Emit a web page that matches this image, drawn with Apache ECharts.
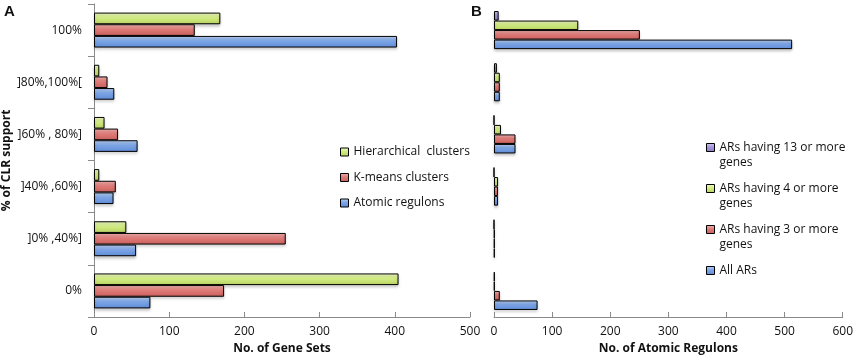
<!DOCTYPE html>
<html>
<head>
<meta charset="utf-8">
<script src="https://cdn.jsdelivr.net/npm/echarts@6/dist/echarts.min.js"></script>
<style>
  html, body { margin: 0; padding: 0; background: #fff; }
  #root { width: 856px; height: 363px; }
</style>
</head>
<body>
<div id="root"></div>
<script>
// categories, bottom to top (category axis starts at the bottom)
var categories = ['0%', ']0% ,40%]', ']40% ,60%]', ']60% , 80%]', ']80%,100%[', '100%'];

// panel A - no. of gene sets
var hierarchical = [405, 43, 7, 14, 7, 168];
var kmeans = [173, 255, 29, 32, 18, 134];
var atomic = [75, 56, 26, 58, 27, 403];

// panel B - no. of atomic regulons
var ar13 = [1, 0, 0, 0, 5, 8];
var ar4 = [1, 1, 7, 12, 10, 145];
var ar3 = [10, 1, 7, 37, 10, 251];
var arAll = [75, 1, 7, 37, 10, 513];

var ticksA = [0, 100, 200, 300, 400, 500];
var ticksB = [0, 100, 200, 300, 400, 500, 600];

var FONT = 'Open Sans';

function grad(light, base, dark) {
    return new echarts.graphic.LinearGradient(0, 0, 0, 1, [
        { offset: 0, color: light },
        { offset: 0.45, color: base },
        { offset: 1, color: dark }
    ]);
}
var GREEN = grad('#f0fcc4', '#d2ec83', '#b7d260');
var RED = grad('#f4b5b3', '#df7b78', '#c95f5c');
var BLUE = grad('#bcd3f7', '#7ba5e6', '#5f8bd6');
var PURPLE = grad('#d5ccf2', '#a596dc', '#8a7bc7');

function bar(name, data, color, idx) {
    return {
        name: name,
        type: 'bar',
        xAxisIndex: idx,
        yAxisIndex: idx,
        data: data,
        barGap: 0,
        barCategoryGap: idx === 0 ? '33%' : '27%',
        itemStyle: {
            color: color,
            borderColor: '#000',
            borderWidth: 1,
            shadowColor: 'rgba(0,0,0,0.22)',
            shadowBlur: 3,
            shadowOffsetY: 2
        }
    };
}

function valueAxis(idx, max, name) {
    return {
        type: 'value',
        gridIndex: idx,
        min: 0,
        max: max,
        interval: 100,
        splitLine: { show: false },
        axisLine: { show: true, lineStyle: { color: '#8a8a8a', width: 1 } },
        axisTick: { show: true, inside: true, length: 5, lineStyle: { color: '#8a8a8a' } },
        axisLabel: { color: '#111', fontSize: 12, fontFamily: FONT, margin: 9 },
        name: name,
        nameLocation: 'middle',
        nameGap: 26,
        nameTextStyle: { color: '#111', fontSize: 12, fontWeight: 'bold', fontFamily: FONT }
    };
}

var root = document.getElementById('root');
var myCharts = echarts.init(root);

var option = {
    animation: false,
    grid: [
        { left: 94, right: 386, top: 4, bottom: 46 },
        { left: 494, right: 13, top: 4, bottom: 46 }
    ],
    xAxis: [
        valueAxis(0, ticksA[ticksA.length - 1], 'No. of Gene Sets'),
        valueAxis(1, ticksB[ticksB.length - 1], 'No. of Atomic Regulons')
    ],
    yAxis: [
        {
            type: 'category',
            gridIndex: 0,
            data: categories,
            axisLine: { show: true, lineStyle: { color: '#8a8a8a' } },
            axisTick: { show: true, length: 6, lineStyle: { color: '#8a8a8a' } },
            axisLabel: { color: '#111', fontSize: 12, fontFamily: FONT, margin: 12 },
            name: '% of CLR support',
            nameLocation: 'middle',
            nameRotate: 90,
            nameGap: 75,
            nameTextStyle: { color: '#111', fontSize: 12, fontWeight: 'bold', fontFamily: FONT }
        },
        {
            type: 'category',
            gridIndex: 1,
            data: categories,
            axisLine: { show: false },
            axisTick: { show: false },
            axisLabel: { show: false }
        }
    ],
    legend: [
        {
            orient: 'vertical',
            left: 335,
            top: 140,
            itemWidth: 8,
            itemHeight: 8,
            itemGap: 11.5,
            icon: 'rect',
            itemStyle: { borderColor: '#000', borderWidth: 1 },
            textStyle: { color: '#111', fontSize: 12, fontFamily: FONT, lineHeight: 14 },
            data: ['Hierarchical  clusters', 'K-means clusters', 'Atomic regulons']
        },
        {
            orient: 'vertical',
            left: 701,
            top: 120,
            itemWidth: 8,
            itemHeight: 8,
            itemGap: -4,
            icon: 'rect',
            itemStyle: { borderColor: '#000', borderWidth: 1 },
            textStyle: { color: '#111', fontSize: 12, fontFamily: FONT, lineHeight: 15 },
            // empty first line keeps the icon level with the first text line
            formatter: function (name) {
                if (name === 'All ARs') {
                    return ' \n' + name + '\n ';
                }
                return ' \n' + name.replace(' more ', ' more\n');
            },
            data: ['ARs having 13 or more genes', 'ARs having 4 or more genes', 'ARs having 3 or more genes', 'All ARs']
        }
    ],
    graphic: [
        { type: 'text', left: 4, top: 4, style: { text: 'A', fontSize: 15, fontWeight: 'bold', fontFamily: 'Liberation Sans', fill: '#111' } },
        { type: 'text', left: 471, top: 4, style: { text: 'B', fontSize: 15, fontWeight: 'bold', fontFamily: 'Liberation Sans', fill: '#111' } }
    ],
    series: [
        bar('Hierarchical  clusters', hierarchical, GREEN, 0),
        bar('K-means clusters', kmeans, RED, 0),
        bar('Atomic regulons', atomic, BLUE, 0),
        bar('ARs having 13 or more genes', ar13, PURPLE, 1),
        bar('ARs having 4 or more genes', ar4, GREEN, 1),
        bar('ARs having 3 or more genes', ar3, RED, 1),
        bar('All ARs', arAll, BLUE, 1)
    ]
};
myCharts.setOption(option);
</script>
</body>
</html>
